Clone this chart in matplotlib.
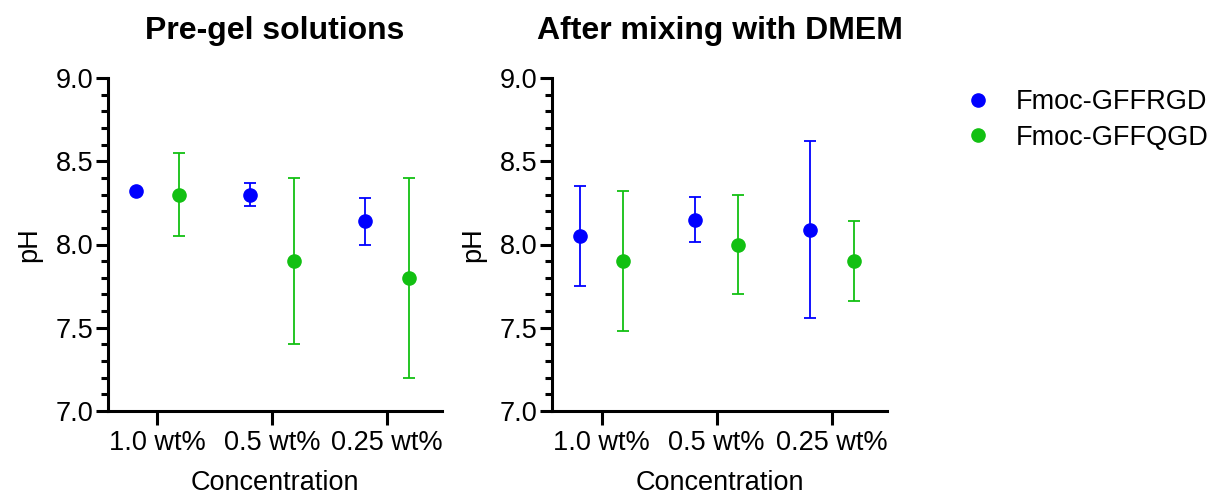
import numpy as np
import matplotlib.pyplot as plt
from matplotlib.ticker import MultipleLocator
from matplotlib.lines import Line2D

plt.rcParams['font.family'] = ['Liberation Sans', 'DejaVu Sans']

categories = ['1.0 wt%', '0.5 wt%', '0.25 wt%']
series = ['Fmoc-GFFRGD', 'Fmoc-GFFQGD']
colors = ['#0000FF', '#12C012']

# Pre-gel solutions
pre_mean = {'Fmoc-GFFRGD': [8.32, 8.30, 8.14], 'Fmoc-GFFQGD': [8.30, 7.90, 7.80]}
pre_err = {'Fmoc-GFFRGD': [0.0, 0.07, 0.14], 'Fmoc-GFFQGD': [0.25, 0.50, 0.60]}

# After mixing with DMEM
dmem_mean = {'Fmoc-GFFRGD': [8.05, 8.15, 8.09], 'Fmoc-GFFQGD': [7.90, 8.00, 7.90]}
dmem_err = {'Fmoc-GFFRGD': [0.30, 0.135, 0.53], 'Fmoc-GFFQGD': [0.42, 0.30, 0.24]}

titles = ['Pre-gel solutions', 'After mixing with DMEM']

fig = plt.figure(figsize=(12.17, 4.95), dpi=100)
ax1 = fig.add_axes([108/1217, 84/495, 334/1217, 333/495])
ax2 = fig.add_axes([552/1217, 84/495, 335/1217, 333/495])

x = np.arange(len(categories))
offsets = [-0.19, 0.19]

for ax, means, errs, title in [(ax1, pre_mean, pre_err, titles[0]),
                               (ax2, dmem_mean, dmem_err, titles[1])]:
    for s, c, off in zip(series, colors, offsets):
        ax.errorbar(x + off, means[s], yerr=errs[s], fmt='o', color=c,
                    markersize=9.5, elinewidth=1.3, capsize=4.5, capthick=1.3)
    ax.set_xlim(-0.43, 2.48)
    ax.set_ylim(7.0, 9.0)
    ax.set_xticks(x)
    ax.set_xticklabels(categories)
    ax.yaxis.set_major_locator(MultipleLocator(0.5))
    ax.yaxis.set_minor_locator(MultipleLocator(0.1))
    ax.set_yticklabels([f'{v:.1f}' for v in ax.get_yticks()])
    for sp in ['top', 'right']:
        ax.spines[sp].set_visible(False)
    for sp in ['left', 'bottom']:
        ax.spines[sp].set_linewidth(2.2)
    ax.tick_params(axis='y', which='major', length=8.5, width=2.2, labelsize=19.5, pad=2)
    ax.tick_params(axis='y', which='minor', length=5, width=2.2)
    ax.tick_params(axis='x', which='major', length=10, width=2.2, labelsize=19.5, pad=4)
    ax.set_xlabel('Concentration', fontsize=19.5, labelpad=10)
    ax.set_ylabel('pH', fontsize=19.5, labelpad=10)
    ax.set_title(title, fontsize=23, fontweight='bold', pad=28)

handles = [Line2D([], [], marker='o', linestyle='none', color=c, markersize=9.5)
           for c in colors]
ax2.legend(handles, series, loc='upper left', bbox_to_anchor=(1.15, 1.04),
           frameon=False, fontsize=19.5, handletextpad=0.8, labelspacing=0.35,
           handlelength=1.2)

fig.savefig('out.png', dpi=100)
